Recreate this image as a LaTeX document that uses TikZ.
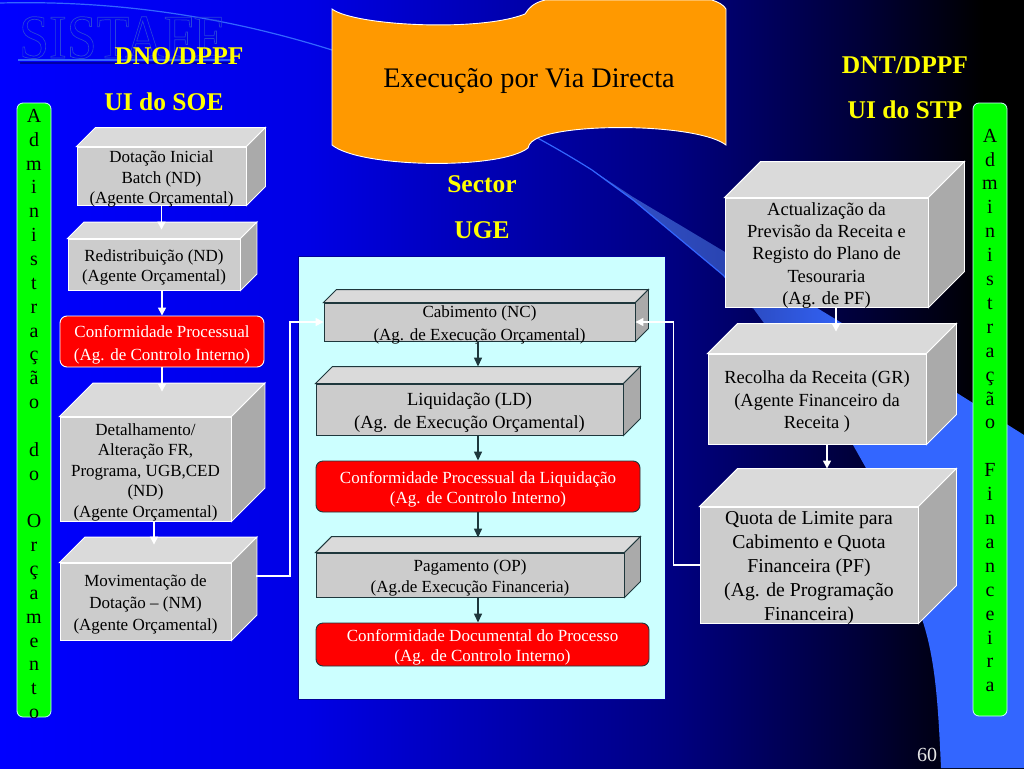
\documentclass[tikz,border=0pt]{standalone}
\usepackage{fontspec}
\setmainfont{Liberation Serif}
\usetikzlibrary{arrows.meta}

\definecolor{slabfront}{RGB}{204,204,204}
\definecolor{slabtop}{RGB}{218,218,218}
\definecolor{slabside}{RGB}{170,170,170}
\definecolor{slabedge}{RGB}{30,55,60}
\definecolor{flagorange}{RGB}{255,153,0}
\definecolor{panelcyan}{RGB}{204,255,255}
\definecolor{barlight}{RGB}{51,102,255}
\definecolor{titleyellow}{RGB}{255,255,0}
\definecolor{alertred}{RGB}{255,0,0}
\definecolor{bargreen}{RGB}{0,255,0}

\pgfdeclarehorizontalshading{slideshade}{100bp}{
	rgb(0bp)=(0,0,1); rgb(25bp)=(0,0,1); rgb(40bp)=(0,0,0.9); rgb(58bp)=(0,0,0.5);
	rgb(67bp)=(0,0,0.22); rgb(73bp)=(0,0,0); rgb(100bp)=(0,0,0)}
\pgfdeclarehorizontalshading{bandshade}{100bp}{
	rgb(0bp)=(0.2,0.32,0.8); rgb(25bp)=(0.2,0.32,0.8); rgb(40bp)=(0.165,0.27,0.7);
	rgb(56bp)=(0.2,0.4,1); rgb(100bp)=(0.2,0.4,1)}

\tikzset{
	lightslab/.style={draw=white, line width=0.9pt},
	darkslab/.style={draw=slabedge, line width=0.9pt},
	alertbox/.style={rectangle, rounded corners=7pt, fill=alertred, inner sep=0pt, line width=0.9pt},
	sidebar/.style={rectangle, rounded corners=6pt, fill=bargreen, draw=panelcyan, line width=0.8pt, inner sep=0pt},
	boxtext/.style={align=center, inner sep=0pt},
	headline/.style={text=titleyellow, font=\fontsize{25.5}{25.5}\selectfont\bfseries},
	lightarrow/.style={draw=white, line width=1.4pt, -{Triangle[width=8pt,length=8pt]}},
	darkarrow/.style={draw=slabedge, line width=1.4pt, -{Triangle[width=8pt,length=9pt]}},
}

% style, name, centre, width, height, depth, font size/leading, text
\newcommand{\slab}[8]{
	\node[#1, fill=slabfront, rectangle, inner sep=0pt, minimum width=#4pt, minimum height=#5pt] (#2) at (#3) {};
	\draw[#1, fill=slabtop] (#2.north west) -- ++(#6,-#6) -- ([shift={(#6,-#6)}]#2.north east) -- (#2.north east) -- cycle;
	\draw[#1, fill=slabside] (#2.north east) -- ([shift={(#6,-#6)}]#2.north east) -- ([shift={(#6,-#6)}]#2.south east) -- (#2.south east) -- cycle;
	\node[boxtext, font=\fontsize#7\selectfont] (#2text) at ([yshift=-3pt]#2.center) {#8};
}
% edge colour, name, centre, width, height, leading, text
\newcommand{\redbox}[7]{
	\node[alertbox, draw=#1, minimum width=#4pt, minimum height=#5pt] (#2) at (#3) {};
	\node[boxtext, text=white, font=\fontsize{17}{#6}\selectfont] (#2text) at ([yshift=-3pt]#2.center) {#7};
}

\begin{document}
\begin{tikzpicture}[x=1pt, y=-1pt]
	\useasboundingbox (0,0) rectangle (1024,768);
	\shade[shading=slideshade] (0,0) rectangle (1024,768);

	\shade[shading=bandshade] (592,170) -- (633,197) -- (725,252) -- (957,393) -- (1024,435) -- (1024,768) -- (941,768)
		.. controls (938,700) and (935,660) .. (923,622) -- (866,468) -- (853,445) -- (753,308) -- (723,275) -- (633,200) -- cycle;
	\draw[barlight, line width=1.2pt] (0,3) .. controls (120,0) and (230,18) .. (332,50)
		.. controls (420,82) and (500,112) .. (592,170) -- (633,200) -- (723,275) -- (753,308);

	% ghost title
	\node[anchor=base west, inner sep=0pt, font=\fontsize{52}{52}\selectfont] (ghost) at (19,58)
		{\scalebox{1.03}[1.2]{\special{pdf:code q 1 Tr 0.6 w 0.16 0.27 0.85 RG}SISTAFE\special{pdf:code Q}}};
	\draw[barlight, line width=1.3pt] (18,60) -- (235,60);
	\draw[blue!65!black, line width=1.5pt] (20,63) -- (236,63);

	\draw[white, line width=0.9pt, fill=flagorange] (332,9) .. controls (355,26) and (480,32) .. (525,14)
		.. controls (529,8) and (533,3) .. (545,0) -- (712,0) .. controls (718,2) and (724,5) .. (726,9) -- (726,145)
		.. controls (700,125) and (580,122) .. (540,137) .. controls (533,140) and (529,143) .. (528,148)
		.. controls (500,170) and (360,168) .. (332,145) -- cycle;
	\node[font=\fontsize{28.3}{28.3}\selectfont] (flagtext) at (529,81) {Execução por Via Directa};

	\node[headline] (dno) at (179,56) {DNO/DPPF};
	\node[headline] (soe) at (164,102) {UI do SOE};
	\node[headline] (dnt) at (905,65) {DNT/DPPF};
	\node[headline] (stp) at (905,110) {UI do STP};
	\node[headline] (sector) at (482,184) {Sector};
	\node[headline] (uge) at (482,230) {UGE};

	\node[sidebar, minimum width=34pt, minimum height=614pt] (orcbar) at (34,410) {};
	\node[boxtext, font=\fontsize{20}{23.85}\selectfont] (orctext) at ([yshift=-4pt]orcbar.center)
		{A\\d\\m\\i\\n\\i\\s\\t\\r\\a\\ç\\ã\\o\\~\\d\\o\\~\\O\\r\\ç\\a\\m\\e\\n\\t\\o};
	\node[sidebar, minimum width=34pt, minimum height=613pt] (finbar) at (990,409.5) {};
	\node[boxtext, font=\fontsize{20}{23.9}\selectfont] (fintext) at ([yshift=-1pt]finbar.center)
		{A\\d\\m\\i\\n\\i\\s\\t\\r\\a\\ç\\ã\\o\\~\\F\\i\\n\\a\\n\\c\\e\\i\\r\\a};

	\node[rectangle, fill=panelcyan, draw=blue!60!black, line width=0.6pt, minimum width=366.5pt, minimum height=443pt] (panel) at (482,477.5) {};

	\slab{lightslab}{dotacao}{161.5,176}{169}{58}{19}{{17}{20.5}}{Dotação Inicial\\Batch (ND)\\(Agente Orçamental)}
	\slab{lightslab}{redist}{154,264.5}{172}{51}{16.5}{{17}{20.5}}{Redistribuição (ND)\\(Agente Orçamental)}
	\redbox{white}{confproc}{162,341.5}{204}{51}{23}{Conformidade Processual\\(Ag. de Controlo Interno)}
	\slab{lightslab}{detalhe}{145.5,469}{171}{104}{33.5}{{17}{20.5}}{Detalhamento/\\Alteração FR,\\Programa, UGB,CED\\(ND)\\(Agente Orçamental)}
	\slab{lightslab}{movim}{145.5,601.5}{171}{77}{25.5}{{17}{22}}{Movimentação de\\Dotação – (NM)\\(Agente Orçamental)}

	\slab{darkslab}{cabim}{479.5,322}{311}{38}{13}{{17}{23}}{Cabimento (NC)\\(Ag. de Execução Orçamental)}
	\slab{darkslab}{liquid}{469.5,409.5}{307}{51}{17}{{18.5}{23}}{Liquidação (LD)\\(Ag. de Execução Orçamental)}
	\redbox{slabedge}{confliq}{478,486.5}{324}{51}{20.5}{Conformidade Processual da Liquidação\\(Ag. de Controlo Interno)}
	\slab{darkslab}{pagam}{470,575}{308}{44}{16}{{17}{20.5}}{Pagamento (OP)\\(Ag.de Execução Financeria)}
	\redbox{slabedge}{confdoc}{482.5,644.5}{333}{43}{20.5}{Conformidade Documental do Processo\\(Ag. de Controlo Interno)}

	\slab{lightslab}{actual}{826.5,252.5}{203}{109}{36}{{18.5}{22.3}}{Actualização da\\Previsão da Receita e\\Registo do Plano de\\Tesouraria\\(Ag. de PF)}
	\slab{lightslab}{recolha}{817,399}{218}{90}{30}{{18.5}{22.5}}{Recolha da Receita (GR)\\(Agente Financeiro da\\Receita )}
	\slab{lightslab}{quota}{809,565}{218}{116}{38}{{19.7}{24}}{Quota de Limite para\\Cabimento e Quota\\Financeira (PF)\\(Ag. de Programação\\Financeira)}

	\node[text=white!90!black, font=\fontsize{20}{20}\selectfont] (pageno) at (927,755) {60};

	\coordinate (movout) at (256,576);
	\draw[lightarrow, shorten >=9pt] (dotacao.south) -- (dotacao.south |- redist.north);
	\draw[lightarrow] (confproc.north |- redist.south) -- (confproc.north);
	\draw[lightarrow, shorten >=25pt] (confproc.south) -- (confproc.south |- detalhe.north);
	\draw[lightarrow, shorten >=18pt] ([xshift=8.5pt]detalhe.south) -- ([xshift=8.5pt]movim.north);
	\draw[lightarrow] (movout) -- ++(34,0) |- (cabim.west);
	\draw[lightarrow] (quota.west) -- ++(-26,0) |- (cabim.east);
	\draw[lightarrow, shorten >=22pt] ([xshift=9.5pt]actual.south) -- ([xshift=19pt]recolha.north);
	\draw[lightarrow, shorten >=38pt] ([xshift=10pt]recolha.south) -- ([xshift=18pt]quota.north);

	\draw[darkarrow, shorten >=17pt] (liquid.north |- cabim.south) ++(8.5,0) -- ([xshift=8.5pt]liquid.north);
	\draw[darkarrow] ([xshift=8.5pt]liquid.south) -- ([xshift=8.5pt]liquid.south |- confliq.north);
	\draw[darkarrow, shorten >=15pt] (confliq.south) -- (confliq.south |- pagam.north);
	\draw[darkarrow] ([xshift=8pt]pagam.south) -- ([xshift=8pt]pagam.south |- confdoc.north);
\end{tikzpicture}
\end{document}
